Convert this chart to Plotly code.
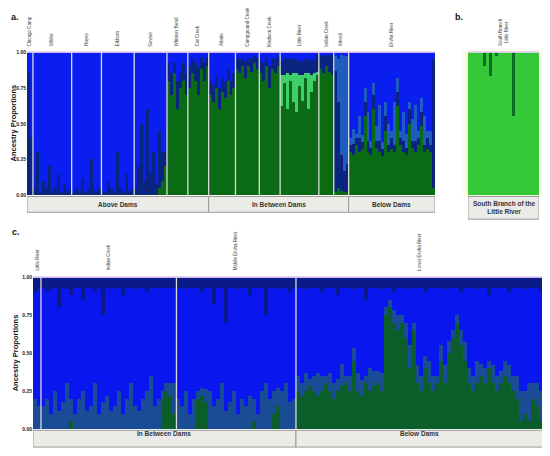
import plotly.graph_objects as go

# ---------------- Panel a data ----------------
pops_a = ["Chicago Camp", "Wilder", "Hayes", "Elkhorn", "Geyser", "Whiskey Bend", "Cat Creek",
          "Altaire", "Campground Creek", "Madison Creek", "Little River", "Indian Creek", "Altwell",
          "Elwha River"]
groups_a = ["Above Dams", "In Between Dams", "Below Dams"]
group_of_pop_a = [0, 0, 0, 0, 0, 0, 0, 1, 1, 1, 1, 1, 1, 2]

# cluster proportions per individual (bottom -> top: green, light green, navy, steel; blue = remainder)
green_a = [
    [0, 0],
    [0, 0, 0, 0, 0, 0, 0, 0, 0, 0, 0, 0, 0],
    [0, 0, 0, 0, 0, 0, 0, 0, 0, 0],
    [0, 0, 0, 0, 0, 0, 0, 0, 0, 0, 0],
    [0, 0, 0, 0, 0, 0, 0, 0, 0.05, 0.1, 0.2],
    [0.8, 0.7, 0.85, 0.6, 0.75, 0.8, 0.7],
    [0.75, 0.85, 0.8, 0.7, 0.88, 0.8, 0.9],
    [0.7, 0.65, 0.75, 0.6, 0.72, 0.68, 0.8, 0.7, 0.75],
    [0.88, 0.85, 0.9, 0.82, 0.9, 0.86, 0.92, 0.88],
    [0.85, 0.8, 0.9, 0.75, 0.88, 0.85, 0.9],
    [0.62, 0.78, 0.6, 0.8, 0.65, 0.58, 0.76, 0.66, 0.82, 0.6, 0.72, 0.8, 0.84],
    [0.88, 0.85, 0.9, 0.86, 0.84],
    [0.02, 0.05, 0.03, 0.02, 0.02],
    [0.3, 0.28, 0.35, 0.3, 0.32, 0.55, 0.3, 0.28, 0.6, 0.33, 0.3, 0.27, 0.45, 0.3, 0.32,
     0.3, 0.62, 0.35, 0.3, 0.28, 0.5, 0.33, 0.3, 0.35, 0.48, 0.3, 0.32, 0.3, 0.05],
]
lightgreen_a = [
    [0, 0],
    [0, 0, 0, 0, 0, 0, 0, 0, 0, 0, 0, 0, 0],
    [0, 0, 0, 0, 0, 0, 0, 0, 0, 0],
    [0, 0, 0, 0, 0, 0, 0, 0, 0, 0, 0],
    [0, 0, 0, 0, 0, 0, 0, 0, 0, 0, 0],
    [0, 0, 0, 0, 0, 0, 0],
    [0, 0, 0, 0, 0, 0, 0],
    [0, 0, 0, 0, 0, 0, 0, 0, 0],
    [0, 0, 0, 0, 0, 0, 0, 0],
    [0, 0, 0, 0, 0, 0, 0],
    [0.22, 0.06, 0.25, 0.04, 0.2, 0.27, 0.08, 0.18, 0.03, 0.25, 0.12, 0.05, 0.02],
    [0, 0, 0, 0, 0],
    [0, 0, 0, 0, 0],
    [0, 0, 0, 0, 0, 0, 0, 0, 0, 0, 0, 0, 0, 0, 0, 0, 0, 0, 0, 0, 0, 0, 0, 0, 0, 0, 0, 0, 0],
]
navy_a = [
    [0.85, 0.4],
    [0.05, 0.3, 0.02, 0.1, 0.05, 0.2, 0.02, 0.05, 0.15, 0.02, 0.08, 0.03, 0.05],
    [0.02, 0.05, 0.03, 0.12, 0.02, 0.04, 0.25, 0.03, 0.02, 0.05],
    [0.03, 0.02, 0.1, 0.04, 0.02, 0.3, 0.05, 0.02, 0.15, 0.03, 0.05],
    [0.05, 0.2, 0.5, 0.1, 0.6, 0.15, 0.3, 0.08, 0.4, 0.2, 0.1],
    [0.12, 0.15, 0.08, 0.2, 0.1, 0.12, 0.15],
    [0.15, 0.1, 0.12, 0.2, 0.08, 0.12, 0.06],
    [0.1, 0.12, 0.08, 0.15, 0.1, 0.12, 0.08, 0.1, 0.1],
    [0.08, 0.1, 0.06, 0.12, 0.06, 0.1, 0.05, 0.08],
    [0.1, 0.12, 0.06, 0.15, 0.08, 0.1, 0.07],
    [0.1, 0.12, 0.1, 0.12, 0.1, 0.1, 0.1, 0.1, 0.1, 0.1, 0.1, 0.1, 0.12],
    [0.1, 0.12, 0.08, 0.12, 0.14],
    [0.85, 0.6, 0.25, 0.15, 0.2],
    [0.05, 0.08, 0.05, 0.1, 0.05, 0.1, 0.08, 0.05, 0.1, 0.05, 0.08, 0.05, 0.1, 0.05, 0.08,
     0.05, 0.1, 0.05, 0.08, 0.05, 0.1, 0.05, 0.08, 0.05, 0.1, 0.05, 0.08, 0.05, 0.9],
]
steel_a = [
    [0, 0],
    [0, 0, 0, 0, 0, 0, 0, 0, 0, 0, 0, 0, 0],
    [0, 0, 0, 0, 0, 0, 0, 0, 0, 0],
    [0, 0, 0, 0, 0, 0, 0, 0, 0, 0, 0],
    [0, 0, 0, 0, 0, 0, 0, 0, 0, 0, 0],
    [0, 0, 0, 0, 0, 0, 0],
    [0, 0, 0, 0, 0, 0, 0],
    [0, 0, 0, 0, 0, 0, 0, 0, 0],
    [0, 0, 0, 0, 0, 0, 0, 0],
    [0, 0, 0, 0, 0, 0, 0],
    [0, 0, 0, 0, 0, 0, 0, 0, 0, 0, 0, 0, 0],
    [0, 0, 0, 0, 0],
    [0.1, 0.3, 0.7, 0.8, 0.75],
    [0.05, 0.1, 0.03, 0.15, 0.05, 0.1, 0.2, 0.05, 0.08, 0.1, 0.25, 0.05, 0.1, 0.15, 0.05,
     0.3, 0.1, 0.05, 0.2, 0.1, 0.05, 0.15, 0.25, 0.05, 0.1, 0.2, 0.05, 0.1, 0.0],
]

# ---------------- Panel b data ----------------
pops_b = ["South Branch<br>Little River"]
groups_b = ["South Branch of the<br>Little River"]
dark_b = [0, 0, 0, 0, 0, 0.1, 0, 0.17, 0, 0.03, 0, 0, 0, 0, 0, 0.45, 0, 0, 0, 0, 0, 0, 0, 0]

# ---------------- Panel c data ----------------
pops_c = ["Little River", "Indian Creek", "Middle Elwha River", "Lower Elwha River"]
groups_c = ["In Between Dams", "Below Dams"]
group_of_pop_c = [0, 0, 0, 1]
# bottom -> top: green, teal, blue (remainder), navy
green_c = [
    [0, 0],
    [0, 0, 0, 0, 0, 0, 0, 0.05, 0, 0, 0, 0, 0, 0, 0, 0, 0, 0, 0, 0, 0, 0, 0, 0, 0, 0, 0, 0,
     0, 0, 0.2, 0.25, 0.22, 0.1],
    [0, 0, 0, 0, 0, 0.2, 0.22, 0.18, 0, 0, 0, 0, 0, 0, 0, 0, 0, 0, 0, 0.05, 0, 0, 0, 0,
     0.1, 0.15, 0, 0, 0, 0],
    [0.25, 0.22, 0.25, 0.28, 0.25, 0.22, 0.25, 0.3, 0.25, 0.2, 0.25, 0.28, 0.3, 0.25, 0.45,
     0.25, 0.22, 0.3, 0.25, 0.28, 0.3, 0.25, 0.75, 0.8, 0.7, 0.65, 0.7, 0.6, 0.4, 0.65,
     0.3, 0.25, 0.4, 0.3, 0.25, 0.3, 0.45, 0.3, 0.5, 0.6, 0.7, 0.55, 0.45, 0.3,
     0.25, 0.3, 0.35, 0.3, 0.4, 0.3, 0.25, 0.3, 0.35, 0.3, 0.25, 0.2,
     0.05, 0.1, 0.05, 0.2, 0.15, 0.05],
]
teal_c = [
    [0.2, 0.15],
    [0.15, 0.2, 0.1, 0.25, 0.12, 0.18, 0.3, 0.15, 0.1, 0.2, 0.25, 0.12, 0.15, 0.3, 0.1, 0.18,
     0.22, 0.12, 0.15, 0.25, 0.1, 0.2, 0.3, 0.15, 0.12, 0.2, 0.25, 0.35, 0.15, 0.2, 0.05,
     0.05, 0.08, 0.2],
    [0.2, 0.15, 0.25, 0.1, 0.2, 0.05, 0.05, 0.08, 0.25, 0.15, 0.2, 0.3, 0.12, 0.18, 0.25,
     0.1, 0.2, 0.15, 0.22, 0.15, 0.1, 0.25, 0.3, 0.2, 0.15, 0.12, 0.25, 0.3, 0.18, 0.2],
    [0.1, 0.08, 0.12, 0.05, 0.1, 0.15, 0.1, 0.05, 0.12, 0.1, 0.08, 0.15, 0.05, 0.1, 0.08,
     0.12, 0.1, 0.05, 0.15, 0.1, 0.08, 0.12, 0.05, 0.05, 0.08, 0.1, 0.05, 0.1, 0.15, 0.05,
     0.12, 0.1, 0.08, 0.15, 0.1, 0.05, 0.1, 0.12, 0.08, 0.05, 0.05, 0.1, 0.12, 0.1,
     0.1, 0.15, 0.08, 0.1, 0.05, 0.12, 0.1, 0.08, 0.1, 0.12, 0.1, 0.15,
     0.2, 0.15, 0.25, 0.1, 0.15, 0.2],
]
navy_c = [
    [0.1, 0.08],
    [0.07, 0.1, 0.08, 0.07, 0.2, 0.07, 0.08, 0.12, 0.07, 0.07, 0.15, 0.07, 0.07, 0.1, 0.07,
     0.25, 0.07, 0.08, 0.07, 0.07, 0.12, 0.07, 0.07, 0.08, 0.07, 0.07, 0.1, 0.07, 0.07,
     0.07, 0.08, 0.07, 0.07, 0.07],
    [0.07, 0.07, 0.08, 0.07, 0.07, 0.07, 0.1, 0.07, 0.07, 0.18, 0.07, 0.07, 0.3, 0.07, 0.07,
     0.08, 0.07, 0.07, 0.12, 0.07, 0.07, 0.07, 0.25, 0.07, 0.07, 0.08, 0.07, 0.07, 0.1, 0.07],
    [0.07, 0.07, 0.08, 0.07, 0.07, 0.07, 0.1, 0.07, 0.07, 0.07, 0.12, 0.07, 0.07, 0.07, 0.08,
     0.07, 0.07, 0.15, 0.07, 0.07, 0.07, 0.08, 0.07, 0.07, 0.1, 0.07, 0.07, 0.07, 0.08, 0.07,
     0.07, 0.07, 0.1, 0.07, 0.07, 0.07, 0.07, 0.08, 0.07, 0.07, 0.07, 0.1, 0.07, 0.07,
     0.07, 0.08, 0.07, 0.07, 0.12, 0.07, 0.07, 0.07, 0.07, 0.1, 0.07, 0.07,
     0.07, 0.08, 0.07, 0.07, 0.07, 0.1],
]

yticks = [0, 0.25, 0.5, 0.75, 1.0]
yticktext = ["0.00", "0.25", "0.50", "0.75", "1.00"]

# page body has an 8px margin: size the figure to fill the rest of the window
OFF = 8
W, H = 550 - OFF, 456 - OFF
def px(x):
    return (x - OFF) / W
def py(y):
    return 1 - (y - OFF) / H

def flatten(lists):
    out = []
    for l in lists:
        out.extend(l)
    return out

fig = go.Figure()

# ---- panel a ----
sizes_a = [len(l) for l in green_a]
for arr in (lightgreen_a, navy_a, steel_a):
    assert [len(l) for l in arr] == sizes_a
ga, la, na, sa = flatten(green_a), flatten(lightgreen_a), flatten(navy_a), flatten(steel_a)
ba = [max(0.0, 1 - g - l - n - s) for g, l, n, s in zip(ga, la, na, sa)]
xa = list(range(len(ga)))
for vals, col in ((ga, "#0b6b14"), (la, "#3fcf6a"), (na, "#0a2580"), (sa, "#1e5cc0"), (ba, "#0a1ef0")):
    fig.add_trace(go.Bar(x=xa, y=vals, marker=dict(color=col, line=dict(width=0)),
                         xaxis="x", yaxis="y", showlegend=False, hoverinfo="skip"))

# ---- panel b ----
light_b = [1 - d for d in dark_b]
xb = list(range(len(dark_b)))
fig.add_trace(go.Bar(x=xb, y=light_b, marker=dict(color="#35c93a", line=dict(width=0)),
                     xaxis="x2", yaxis="y2", showlegend=False, hoverinfo="skip"))
fig.add_trace(go.Bar(x=xb, y=dark_b, marker=dict(color="#0b6a24", line=dict(width=0)),
                     xaxis="x2", yaxis="y2", showlegend=False, hoverinfo="skip"))

# ---- panel c ----
sizes_c = [len(l) for l in green_c]
for arr in (teal_c, navy_c):
    assert [len(l) for l in arr] == sizes_c
gc, tc, nc = flatten(green_c), flatten(teal_c), flatten(navy_c)
bc = [max(0.0, 1 - g - t - n) for g, t, n in zip(gc, tc, nc)]
xc = list(range(len(gc)))
for vals, col in ((gc, "#0b5e2a"), (tc, "#1a4c96"), (bc, "#0a16ee"), (nc, "#0a1a88")):
    fig.add_trace(go.Bar(x=xc, y=vals, marker=dict(color=col, line=dict(width=0)),
                         xaxis="x3", yaxis="y3", showlegend=False, hoverinfo="skip"))

# panel geometry (reference pixels)
A = dict(x0=27, x1=435, y0=50, y1=195)
B = dict(x0=468, x1=539, y0=50, y1=195)
C = dict(x0=33, x1=543, y0=278, y1=432)

def yaxis_dict(P, show, anchor):
    return dict(domain=[py(P["y1"]), py(P["y0"])], range=[0, 1], showgrid=False, zeroline=False,
                tickvals=yticks if show else [],
                ticktext=["<b>%s</b>" % t for t in yticktext] if show else [],
                tickfont=dict(size=5, family="Liberation Sans", color="#222"), ticks="",
                showline=False, fixedrange=True, anchor=anchor)

def xaxis_dict(P, n, anchor):
    return dict(domain=[px(P["x0"]), px(P["x1"])], range=[-0.5, n - 0.5], showgrid=False,
                zeroline=False, showticklabels=False, ticks="", showline=False, anchor=anchor)

shapes = []
annotations = []

def panel_decor(P, sizes, names, groups, group_of_pop, xref, box_y1, label_y):
    n = sum(sizes)
    starts = []
    s = 0
    for k in sizes:
        starts.append(s)
        s += k
    for st in starts[1:]:
        shapes.append(dict(type="line", xref=xref, yref="paper", x0=st - 0.5, x1=st - 0.5,
                           y0=py(P["y1"]), y1=py(P["y0"]), line=dict(color="#d9d9d9", width=1.3)))
    shapes.append(dict(type="line", xref=xref, yref="paper", x0=-0.5, x1=n - 0.5,
                       y0=py(P["y0"] - 0.5), y1=py(P["y0"] - 0.5),
                       line=dict(color="#e6c8f2", width=1.5)))
    for st, k, name in zip(starts, sizes, names):
        annotations.append(dict(x=st + (k - 1) / 2, y=py(label_y), xref=xref, yref="paper",
                                text=name, textangle=-90, showarrow=False, xanchor="center",
                                yanchor="bottom",
                                font=dict(size=4.5, family="Liberation Sans", color="#444")))
    for gi, gname in enumerate(groups):
        idx = [i for i, g in enumerate(group_of_pop) if g == gi]
        g0 = starts[idx[0]] - 0.5
        g1 = starts[idx[-1]] + sizes[idx[-1]] - 0.5
        shapes.append(dict(type="rect", xref=xref, yref="paper", x0=g0, x1=g1,
                           y0=py(box_y1), y1=py(P["y1"] + 1), fillcolor="#ebebe8",
                           line=dict(color="#9a9a9a", width=1)))
        annotations.append(dict(x=(g0 + g1) / 2, y=(py(box_y1) + py(P["y1"] + 1)) / 2, xref=xref,
                                yref="paper", text="<b>%s</b>" % gname, showarrow=False,
                                font=dict(size=6.5, family="Liberation Sans", color="#333")))

panel_decor(A, sizes_a, pops_a, groups_a, group_of_pop_a, "x", 212, 46)
panel_decor(B, [len(dark_b)], pops_b, groups_b, [0], "x2", 219, 46)
panel_decor(C, sizes_c, pops_c, groups_c, group_of_pop_c, "x3", 450, 273)

# pale yellow frame behind panel b
shapes.insert(0, dict(type="rect", xref="paper", yref="paper", x0=px(463), x1=px(543),
                      y0=py(196), y1=py(48), fillcolor="#fbfbe2", line=dict(width=0), layer="below"))

for txt, x, y in (("a.", 9, 14), ("b.", 453, 14), ("c.", 10, 232)):
    annotations.append(dict(x=px(x), y=py(y), xref="paper", yref="paper", text="<b>%s</b>" % txt,
                            showarrow=False, xanchor="left", yanchor="middle",
                            font=dict(size=9, family="Liberation Sans", color="#111")))
for x, y in ((13, 122), (15, 355)):
    annotations.append(dict(x=px(x), y=py(y), xref="paper", yref="paper",
                            text="<b>Ancestry Proportions</b>", textangle=-90, showarrow=False,
                            xanchor="center", yanchor="middle",
                            font=dict(size=7.5, family="Liberation Sans", color="#111")))

fig.update_layout(
    width=W, height=H, margin=dict(l=0, r=0, t=0, b=0),
    paper_bgcolor="white", plot_bgcolor="rgba(0,0,0,0)",
    barmode="stack", bargap=0, showlegend=False,
    xaxis=xaxis_dict(A, len(xa), "y"), yaxis=yaxis_dict(A, True, "x"),
    xaxis2=xaxis_dict(B, len(xb), "y2"), yaxis2=yaxis_dict(B, False, "x2"),
    xaxis3=xaxis_dict(C, len(xc), "y3"), yaxis3=yaxis_dict(C, True, "x3"),
    shapes=shapes, annotations=annotations,
)

fig.write_html("out.html")
